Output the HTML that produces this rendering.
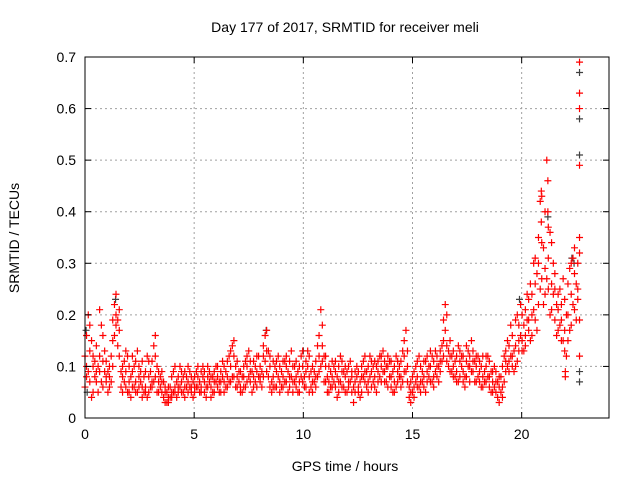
<!DOCTYPE html>
<html><head><meta charset="utf-8"><style>
body{margin:0;background:#fff;}
svg{display:block;font-family:"Liberation Sans",sans-serif;}
</style></head><body>
<svg id="chart" width="640" height="480">
<text x="345" y="32" text-anchor="middle" font-size="14">Day 177 of 2017, SRMTID for receiver meli</text>
<text x="0" y="0" transform="translate(19,238) rotate(-90)" text-anchor="middle" font-size="14">SRMTID / TECUs</text>
<text x="345" y="471" text-anchor="middle" font-size="14">GPS time / hours</text>
<g id="grid"></g><g id="gray"></g><g id="red"></g><g id="axes"></g>
</svg>
<script>
const xTicks=[0,5,10,15,20];
const yTicks=[0,0.1,0.2,0.3,0.4,0.5,0.6,0.7];
const yTickLabels=["0","0.1","0.2","0.3","0.4","0.5","0.6","0.7"];
const redRows=[
[0.0,.12,.06],[0.15,.20,.09],[0.3,.15,.04],[0.45,.08,.11],[0.6,.10,.05],[0.75,.18,.07],[0.9,.13,.09],[1.05,.09,.05],[1.2,.12,.07],[1.35,.22,.16],[1.5,.19,.14],[1.65,.09,.06],[1.8,.07,.11],[1.95,.12,.05],[2.1,.08,.04],[2.25,.10,.06],[2.4,.13,.05],[2.55,.07,.09],[2.7,.05,.08],[2.85,.12,.04],[3.0,.09,.06],[3.15,.14,.07],[3.3,.10,.05],[3.45,.06,.08],[3.6,.04,.07],[3.75,.03,.05],[3.9,.06,.04],[4.05,.09,.05],[4.2,.07,.04],[4.35,.10,.06],[4.5,.05,.08],[4.65,.08,.06],[4.8,.06,.09],[4.95,.04,.07],[5.1,.09,.06],[5.25,.07,.05],[5.4,.08,.10],[5.55,.06,.04],[5.7,.09,.07],[5.85,.05,.08],[6.0,.10,.07],[6.15,.07,.05],[6.3,.08,.11],[6.45,.06,.09],[6.6,.12,.07],[6.75,.14,.08],[6.9,.10,.06],[7.05,.07,.09],[7.2,.05,.08],[7.35,.11,.06],[7.5,.13,.08],[7.65,.09,.05],[7.8,.07,.10],[7.95,.12,.08],[8.1,.06,.09],[8.25,.16,.11],[8.4,.13,.08],[8.55,.07,.05],[8.7,.10,.06],[8.85,.08,.12],[9.0,.06,.09],[9.15,.11,.07],[9.3,.09,.05],[9.45,.13,.08],[9.6,.07,.10],[9.75,.05,.09],[9.9,.12,.08],[10.05,.08,.06],[10.2,.10,.13],[10.35,.06,.09],[10.5,.09,.07],[10.65,.14,.08],[10.8,.21,.10],[10.95,.12,.07],[11.1,.08,.05],[11.25,.06,.09],[11.4,.10,.07],[11.55,.08,.04],[11.7,.12,.07],[11.85,.06,.09],[12.0,.09,.05],[12.15,.11,.07],[12.3,.06,.03],[12.45,.08,.10],[12.6,.04,.07],[12.75,.11,.08],[12.9,.09,.06],[13.05,.12,.08],[13.2,.07,.10],[13.35,.10,.05],[13.5,.08,.12],[13.65,.13,.09],[13.8,.07,.10],[13.95,.11,.08],[14.1,.09,.05],[14.25,.06,.12],[14.4,.10,.08],[14.55,.13,.07],[14.7,.17,.09],[14.85,.06,.04],[15.0,.08,.05],[15.15,.10,.07],[15.3,.06,.12],[15.45,.09,.07],[15.6,.11,.05],[15.75,.08,.10],[15.9,.12,.07],[16.05,.09,.13],[16.2,.10,.07],[16.35,.14,.11],[16.5,.22,.17],[16.65,.13,.10],[16.8,.09,.12],[16.95,.11,.08],[17.1,.14,.07],[17.25,.10,.12],[17.4,.08,.06],[17.55,.13,.10],[17.7,.15,.09],[17.85,.11,.07],[18.0,.08,.12],[18.15,.10,.06],[18.3,.07,.09],[18.45,.12,.08],[18.6,.09,.05],[18.75,.06,.10],[18.9,.04,.07],[19.05,.08,.05],[19.2,.12,.07],[19.35,.15,.10],[19.5,.18,.12],[19.65,.13,.09],[19.8,.20,.11],[19.95,.16,.22],[20.1,.13,.18],[20.25,.19,.24],[20.4,.15,.26],[20.55,.21,.30],[20.7,.28,.17],[20.85,.42,.25],[21.0,.33,.22],[21.15,.50,.27],[21.3,.36,.20],[21.45,.30,.24],[21.6,.22,.16],[21.75,.18,.25],[21.9,.27,.15],[22.05,.20,.12],[22.2,.29,.17],[22.35,.31,.22],[22.5,.26,.19],[22.65,.35,.69],[22.65,.63,.60],[22.65,.49,.32],[22.65,.12,.19],[21.2,.46,.40],[20.9,.38,.44],[22.0,.08,.09]
];
const redRows2=[
[0.07,.16,.08,.10],[0.22,.13,.07,.18],[0.37,.10,.05,.12],[0.52,.14,.07,.09],[0.67,.21,.09,.12],[0.82,.16,.06,.11],[0.97,.11,.07,.08],[1.12,.08,.10,.06],[1.27,.15,.10,.19],[1.42,.24,.18,.20],[1.57,.17,.12,.21],[1.72,.08,.05,.10],[1.87,.09,.06,.13],[2.02,.07,.10,.05],[2.17,.09,.12,.06],[2.32,.07,.11,.05],[2.47,.10,.06,.08],[2.62,.06,.11,.04],[2.77,.09,.06,.05],[2.92,.08,.11,.05],[3.07,.11,.07,.06],[3.22,.12,.08,.16],[3.37,.07,.09,.05],[3.52,.05,.07,.09],[3.67,.05,.03,.06],[3.82,.04,.06,.03],[3.97,.05,.08,.04],[4.12,.06,.10,.05],[4.27,.08,.05,.06],[4.42,.07,.05,.09],[4.57,.06,.09,.04],[4.72,.07,.05,.10],[4.87,.08,.05,.06],[5.02,.06,.08,.05],[5.17,.08,.10,.06],[5.32,.06,.09,.05],[5.47,.07,.05,.09],[5.62,.08,.06,.10],[5.77,.06,.08,.04],[5.92,.07,.09,.05],[6.07,.08,.06,.10],[6.22,.09,.07,.05],[6.37,.07,.10,.05],[6.52,.08,.11,.06],[6.67,.10,.13,.07],[6.82,.12,.08,.15],[6.97,.08,.06,.11],[7.12,.06,.09,.05],[7.27,.08,.10,.06],[7.42,.10,.07,.12],[7.57,.11,.07,.09],[7.72,.08,.06,.11],[7.87,.09,.06,.12],[8.02,.10,.07,.08],[8.17,.12,.08,.14],[8.32,.17,.13,.09],[8.47,.10,.06,.12],[8.62,.08,.11,.06],[8.77,.09,.06,.11],[8.92,.07,.10,.05],[9.07,.08,.11,.06],[9.22,.10,.07,.12],[9.37,.08,.11,.06],[9.52,.10,.07,.05],[9.67,.08,.11,.06],[9.82,.07,.10,.05],[9.97,.10,.13,.07],[10.12,.09,.11,.06],[10.27,.08,.12,.05],[10.42,.07,.10,.05],[10.57,.11,.08,.06],[10.72,.16,.12,.09],[10.87,.18,.11,.14],[11.02,.10,.07,.12],[11.17,.07,.10,.05],[11.32,.08,.11,.06],[11.47,.09,.06,.11],[11.62,.10,.07,.05],[11.77,.09,.06,.11],[11.92,.08,.10,.05],[12.07,.07,.10,.06],[12.22,.09,.05,.08],[12.37,.07,.05,.09],[12.52,.06,.09,.05],[12.67,.08,.05,.10],[12.82,.09,.07,.12],[12.97,.10,.07,.05],[13.12,.09,.06,.11],[13.27,.08,.11,.06],[13.42,.09,.07,.11],[13.57,.10,.07,.12],[13.72,.09,.07,.11],[13.87,.10,.06,.12],[14.02,.08,.11,.06],[14.17,.07,.10,.05],[14.32,.09,.07,.11],[14.47,.11,.08,.06],[14.62,.12,.09,.15],[14.77,.10,.07,.13],[14.92,.07,.05,.03],[15.07,.06,.09,.04],[15.22,.08,.11,.06],[15.37,.10,.07,.05],[15.52,.08,.11,.06],[15.67,.09,.12,.07],[15.82,.10,.07,.13],[15.97,.11,.08,.06],[16.12,.12,.08,.10],[16.27,.11,.13,.09],[16.42,.19,.15,.12],[16.57,.20,.14,.11],[16.72,.12,.09,.15],[16.87,.10,.13,.08],[17.02,.12,.09,.07],[17.17,.11,.08,.13],[17.32,.09,.12,.07],[17.47,.11,.08,.14],[17.62,.12,.10,.07],[17.77,.13,.09,.11],[17.92,.10,.07,.12],[18.07,.09,.11,.07],[18.22,.08,.12,.06],[18.37,.10,.07,.12],[18.52,.08,.11,.06],[18.67,.09,.07,.05],[18.82,.07,.05,.09],[18.97,.06,.03,.08],[19.12,.10,.06,.04],[19.27,.13,.09,.11],[19.42,.14,.11,.09],[19.57,.16,.12,.10],[19.72,.14,.19,.10],[19.87,.18,.13,.15],[20.02,.15,.20,.13],[20.17,.21,.16,.14],[20.32,.17,.23,.19],[20.47,.24,.20,.16],[20.62,.26,.19,.31],[20.77,.35,.30,.22],[20.92,.34,.27,.43],[21.07,.40,.29,.24],[21.22,.37,.31,.25],[21.37,.34,.26,.21],[21.52,.25,.19,.28],[21.67,.21,.17,.24],[21.82,.22,.15,.19],[21.97,.23,.17,.13],[22.12,.26,.20,.15],[22.27,.30,.24,.18],[22.42,.28,.21,.33],[22.57,.30,.23,.25]
];
const grayTimes=[22.65,22.65,22.65,22.4,22.65,22.65,1.4,8.3,21.2,19.9,0.05,0.1,10.0,22.3];
const grayValues=[.67,.58,.51,.30,.09,.07,.23,.17,.39,.23,.17,.05,.13,.31];
const L=85,R=609,T=57,B=418,XMAX=24,YMAX=0.7;
const xs=v=>L+v/XMAX*(R-L), ys=v=>B-v/YMAX*(B-T);
const NS="http://www.w3.org/2000/svg";
function mk(tag,attrs,parent){const e=document.createElementNS(NS,tag);for(const k in attrs)e.setAttribute(k,attrs[k]);parent.appendChild(e);return e;}
const grid=document.getElementById('grid'),axes=document.getElementById('axes');
xTicks.forEach(t=>{const x=xs(t);
 if(t>0){const g=mk('line',{x1:x,x2:x,y1:T,y2:B,stroke:'#a0a0a0','stroke-dasharray':'2,3'},grid);
 
 }
 mk('line',{x1:x,x2:x,y1:B,y2:B-6,stroke:'#000'},axes);mk('line',{x1:x,x2:x,y1:T,y2:T+6,stroke:'#000'},axes);
 const lb=mk('text',{x:x,y:B+21,'text-anchor':'middle','font-size':14},axes);lb.textContent=t;
 
 });
yTicks.forEach((t,i)=>{const y=ys(t);
 if(i>0&&i<yTicks.length-1){const g=mk('line',{x1:L,x2:R,y1:y,y2:y,stroke:'#a0a0a0','stroke-dasharray':'2,3'},grid);
 
 }
 mk('line',{x1:L,x2:L+6,y1:y,y2:y,stroke:'#000'},axes);mk('line',{x1:R,x2:R-6,y1:y,y2:y,stroke:'#000'},axes);
 const lb=mk('text',{x:L-9,y:y+5,'text-anchor':'end','font-size':14},axes);lb.textContent=yTickLabels[i];
 
 });
const frame=mk('rect',{x:L,y:T,width:R-L,height:B-T,fill:'none',stroke:'#000'},axes);


function plus(x,y,color,parent){return mk('path',{d:`M${x-3.5},${y}h7M${x},${y-3.5}v7`,stroke:color,'stroke-width':1.2,fill:'none'},parent);}
const gG=document.getElementById('gray'),gR=document.getElementById('red');
grayTimes.forEach((t,i)=>{const p=plus(xs(t),ys(grayValues[i]),'#404040',gG);
 
 });
[redRows,redRows2].forEach(rows=>rows.forEach(r=>{for(let j=1;j<r.length;j++){const p=plus(xs(r[0]),ys(r[j]),'#ff0000',gR);
 
 }}));
</script>
</body></html>
